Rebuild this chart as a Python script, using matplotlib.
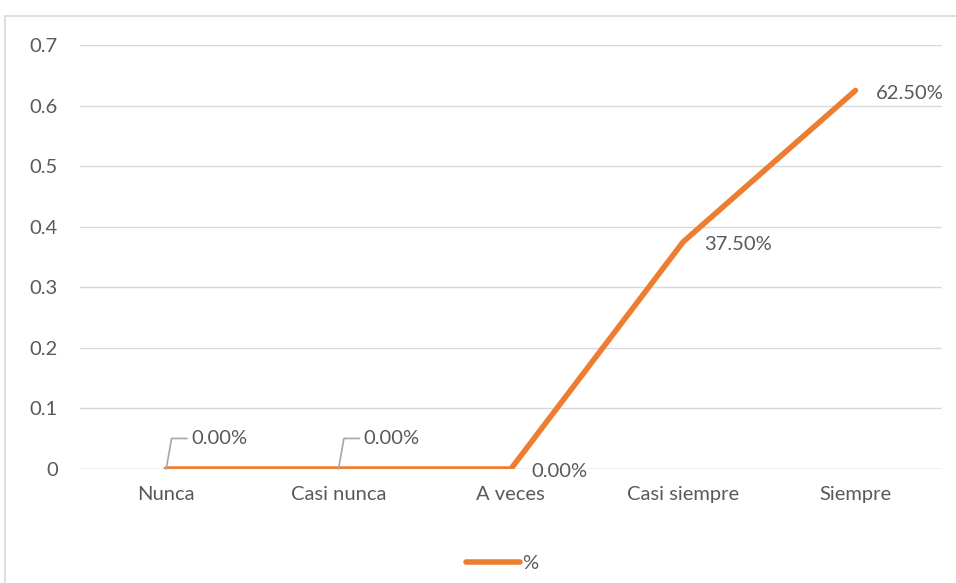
import matplotlib.pyplot as plt
from matplotlib.patches import Rectangle

categories = ['Nunca', 'Casi nunca', 'A veces', 'Casi siempre', 'Siempre']
values = [0.0, 0.0, 0.0, 0.375, 0.625]
labels = ['0.00%', '0.00%', '0.00%', '37.50%', '62.50%']
yticks = [0, 0.1, 0.2, 0.3, 0.4, 0.5, 0.6, 0.7]

orange = '#ED7D31'
txt = '#595959'
fs = 14.5
plt.rcParams['font.family'] = ['Lato', 'DejaVu Sans']

fig = plt.figure(figsize=(9.56, 5.83), dpi=100)
ax = fig.add_axes([0.0837, 0.1955, 0.9013, 0.7273])

x = list(range(len(categories)))
ax.plot(x, values, color=orange, linewidth=4, solid_capstyle='round', label='%')

ax.set_xlim(-0.5, len(categories) - 0.5)
ax.set_ylim(0, 0.7)
ax.set_yticks(yticks)
ax.set_yticklabels([f'{t:g}' for t in yticks])
ax.set_xticks(x)
ax.set_xticklabels(categories)
ax.tick_params(length=0, labelsize=fs, colors=txt, pad=12)
ax.tick_params(axis='y', pad=16)
ax.grid(axis='y', color='#D9D9D9', linewidth=1)
ax.set_axisbelow(True)
for s in ax.spines.values():
    s.set_visible(False)
ax.axhline(0, color='#D9D9D9', linewidth=1, zorder=0)

# data labels
for i, (v, lab) in enumerate(zip(values, labels)):
    if i < 2:
        ax.annotate(lab, xy=(i, v), xytext=(18, 22), textcoords='offset points',
                    fontsize=fs, color=txt, va='center', ha='left',
                    arrowprops=dict(arrowstyle='-', color='#A6A6A6', lw=1.2,
                                    shrinkA=1, shrinkB=0,
                                    connectionstyle='angle,angleA=0,angleB=80,rad=0'))
    else:
        ax.annotate(lab, xy=(i, v), xytext=(15, -2), textcoords='offset points',
                    fontsize=fs, color=txt, va='center', ha='left')

leg = ax.legend(loc='upper center', bbox_to_anchor=(0.49, -0.16), frameon=False,
                fontsize=fs, handlelength=2.7, handletextpad=0.1)
for t in leg.get_texts():
    t.set_color(txt)

fig.patches.append(Rectangle((5 / 956, -0.1), 2, 1 - 16 / 583 + 0.1,
                             transform=fig.transFigure, fill=False,
                             edgecolor='#D9D9D9', linewidth=1.2))

fig.savefig('out.png', dpi=100)
